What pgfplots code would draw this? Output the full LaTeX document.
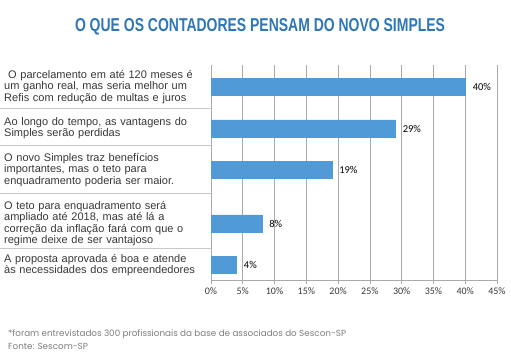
\documentclass[border=0pt]{standalone}
\usepackage{pgfplots}
\pgfplotsset{compat=1.18}
\usepackage{fontspec}
\setmainfont{Liberation Sans}
\newfontfamily\labelfont{Liberation Sans}
\newfontfamily\tickfont{Carlito}
\newfontfamily\notefont{Poppins}
\definecolor{barblue}{RGB}{80,155,215}
\definecolor{titleblue}{RGB}{46,118,182}
\definecolor{labelgray}{RGB}{55,55,55}
\definecolor{notegray}{RGB}{125,125,125}
\definecolor{gridgray}{RGB}{170,170,170}
\definecolor{sepgray}{RGB}{200,200,200}
\begin{document}
\begin{tikzpicture}
\path[use as bounding box] (0,0) rectangle (511pt,361pt);
\node[anchor=center, text=titleblue, inner sep=0] at (260pt,334pt)
  {\resizebox{370pt}{13pt}{\bfseries O QUE OS CONTADORES PENSAM DO NOVO SIMPLES}};
\begin{axis}[
  at={(211pt,81pt)}, anchor=south west,
  scale only axis, width=286pt, height=215pt,
  xmin=0, xmax=45, ymin=0, ymax=215,
  /pgf/number format/assume math mode=true,
  xbar, bar width=17pt, bar shift=0pt,
  xtick={0,5,...,45},
  xticklabel={\pgfmathprintnumber{\tick}\%},
  xticklabel style={font=\tickfont\fontsize{10}{12}\selectfont, text=labelgray},
  xmajorgrids, grid style={gridgray, line width=0.6pt},
  axis x line*=bottom, axis y line*=left,
  axis line style={gridgray, line width=0.6pt},
  x tick style={gridgray, line width=0.6pt},
  tick align=outside, major tick length=4pt,
  ytick={193,151.5,110,56.5,15},
  y tick style={draw=none},
  yticklabels={
    {\hspace*{4pt}O parcelamento em até 120 meses é\\ um ganho real, mas seria melhor um\\ Refis com redução de multas e juros},
    {Ao longo do tempo, as vantagens do\\ Simples serão perdidas},
    {O novo Simples traz benefícios\\ importantes, mas o teto para\\ enquadramento poderia ser maior.},
    {O teto para enquadramento será\\ ampliado até 2018, mas até lá a\\ correção da inflação fará com que o\\ regime deixe de ser vantajoso},
    {A proposta aprovada é boa e atende\\ às necessidades dos empreendedores}},
  yticklabel style={anchor=west, xshift=-203pt, inner sep=0pt, text width=198pt, align=left,
    font=\labelfont\fontsize{11}{9.8}\selectfont, text=labelgray},
  nodes near coords={\pgfmathprintnumber{\pgfplotspointmeta}\%},
  nodes near coords style={anchor=west, xshift=4pt, font=\tickfont\fontsize{10.5}{12}\selectfont, text=black},
  point meta=explicit,
  clip=false,
]
\addplot[fill=barblue, draw=barblue] coordinates {
  (40,193) [40]
  (29,151.5) [29]
  (19,110) [19]
  (8,56.5) [8]
  (4,15) [4]
};
\foreach \s in {172,135,87,32} {
  \edef\tmp{\noexpand\draw[sepgray, line width=0.7pt] (axis cs:-33.2,\s) -- (axis cs:0,\s);}
  \tmp
}
\end{axis}
\node[anchor=north west, inner sep=0, text=notegray, align=left,
  font=\notefont\fontsize{8.8}{13}\selectfont] at (8pt,31pt)
  {*foram entrevistados 300 profissionais da base de associados do Sescon-SP\\ Fonte: Sescom-SP};
\end{tikzpicture}
\end{document}
